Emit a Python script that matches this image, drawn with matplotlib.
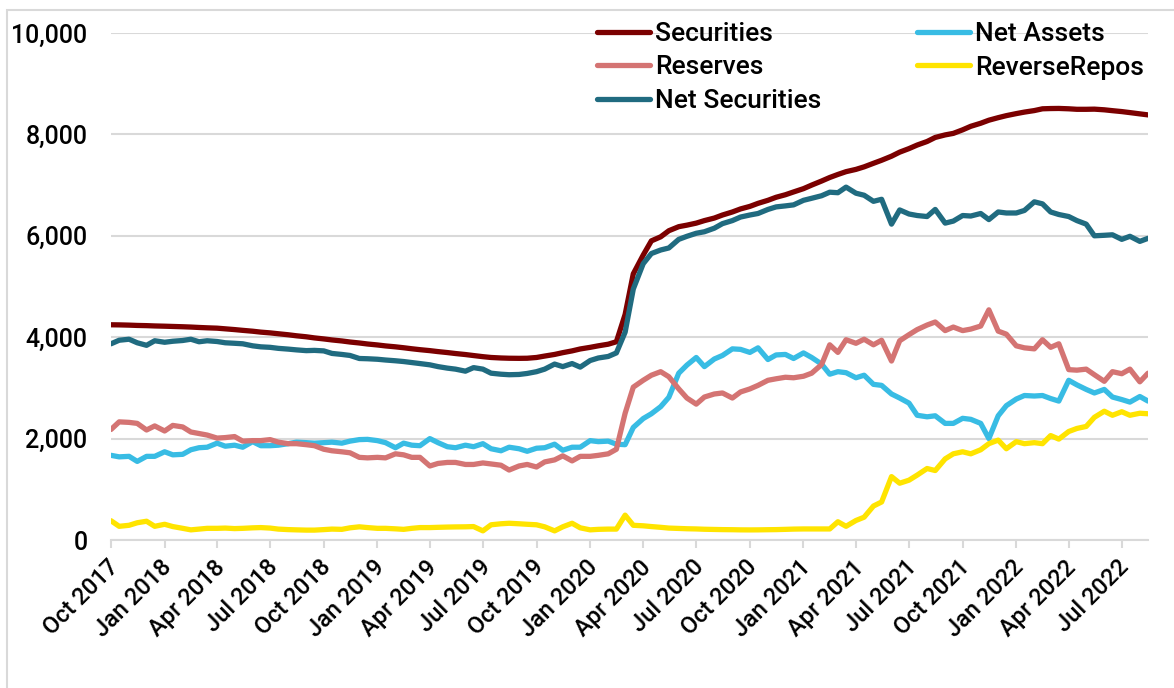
import matplotlib
matplotlib.use("Agg")
import matplotlib.pyplot as plt
import matplotlib.dates as mdates
import matplotlib.transforms as mtrans
from matplotlib.ticker import FuncFormatter
from matplotlib.patches import Rectangle
import pandas as pd

plt.rcParams['font.family'] = ['Roboto', 'DejaVu Sans']
plt.rcParams['font.weight'] = 'medium'

# semi-monthly sampling of the weekly series, Oct 2017 - Aug 2022
dates = pd.date_range("2017-10-01", periods=118, freq="SMS")

securities = [
    4245, 4243, 4238, 4232, 4228, 4222, 4217, 4212, 4206, 4200,
    4192, 4185, 4178, 4165, 4150, 4135, 4118, 4100, 4085, 4068,
    4048, 4028, 4008, 3986, 3966, 3946, 3926, 3905, 3886, 3866,
    3847, 3828, 3810, 3792, 3772, 3754, 3735, 3716, 3697, 3678,
    3658, 3638, 3616, 3600, 3590, 3585, 3583, 3585, 3600, 3628,
    3660, 3695, 3730, 3768, 3800, 3830, 3862, 3910, 4450, 5250,
    5620, 5900, 5980, 6100, 6180, 6210, 6250, 6300, 6350, 6410,
    6470, 6530, 6580, 6640, 6700, 6760, 6810, 6865, 6930, 7000,
    7080, 7150, 7210, 7265, 7310, 7360, 7430, 7490, 7570, 7650,
    7720, 7790, 7860, 7940, 7990, 8020, 8090, 8160, 8220, 8280,
    8330, 8370, 8410, 8440, 8470, 8505, 8510, 8512, 8505, 8495,
    8495, 8498, 8485, 8468, 8450, 8430, 8405, 8385]

net_assets = [
    1670, 1640, 1650, 1550, 1650, 1650, 1740, 1680, 1690, 1780,
    1820, 1830, 1910, 1850, 1870, 1830, 1940, 1860, 1860, 1870,
    1900, 1930, 1920, 1910, 1920, 1930, 1910, 1950, 1980, 1985,
    1960, 1920, 1820, 1910, 1870, 1860, 2000, 1920, 1840, 1820,
    1870, 1840, 1900, 1800, 1760, 1830, 1800, 1750, 1810, 1820,
    1890, 1770, 1830, 1830, 1960, 1940, 1950, 1890, 1880, 2220,
    2395, 2490, 2630, 2815, 3290, 3450, 3600, 3420, 3570, 3640,
    3770, 3760, 3700, 3790, 3560, 3650, 3660, 3580, 3690, 3600,
    3470, 3270, 3320, 3300, 3200, 3250, 3070, 3050, 2880, 2800,
    2700, 2460, 2430, 2450, 2300, 2300, 2400, 2380, 2300, 2000,
    2450, 2650, 2780, 2850, 2840, 2850, 2790, 2740, 3150, 3060,
    2970, 2900, 2970, 2820, 2770, 2720, 2830, 2740]

reserves = [
    2180, 2330, 2320, 2300, 2170, 2250, 2150, 2260, 2230, 2130,
    2100, 2070, 2010, 2020, 2040, 1950, 1960, 1960, 1980, 1930,
    1900, 1900, 1880, 1860, 1790, 1760, 1740, 1720, 1630, 1620,
    1630, 1620, 1700, 1680, 1630, 1630, 1460, 1510, 1530, 1530,
    1490, 1490, 1520, 1500, 1475, 1380, 1460, 1490, 1440, 1540,
    1580, 1660, 1560, 1650, 1650, 1670, 1700, 1790, 2500, 3015,
    3150, 3250, 3320, 3220, 2980, 2800, 2680, 2820, 2880, 2900,
    2800, 2920, 2980, 3050, 3150, 3180, 3210, 3200, 3230, 3290,
    3460, 3850, 3700, 3950, 3880, 3960, 3850, 3940, 3530, 3930,
    4050, 4150, 4240, 4300, 4130, 4200, 4130, 4160, 4220, 4540,
    4120, 4060, 3830, 3790, 3770, 3950, 3800, 3870, 3360, 3350,
    3370, 3260, 3130, 3320, 3280, 3370, 3120, 3290]

reverse_repos = [
    380, 270, 290, 340, 370, 270, 310, 265, 230, 200,
    215, 230, 230, 235, 225, 230, 240, 245, 235, 215,
    205, 200, 195, 195, 205, 215, 210, 240, 260, 245,
    230, 230, 220, 210, 230, 245, 245, 250, 255, 258,
    260, 265, 180, 300, 320, 330, 320, 310, 300, 260,
    180, 260, 330, 240, 200, 210, 215, 215, 490, 290,
    280, 265, 250, 235, 228, 222, 218, 212, 208, 205,
    203, 200, 199, 200, 203, 205, 210, 215, 218, 218,
    218, 218, 360, 270, 385, 450, 670, 750, 1250, 1120,
    1180, 1280, 1410, 1370, 1600, 1700, 1740, 1700, 1780, 1900,
    1970, 1800, 1940, 1900, 1920, 1900, 2060, 1990, 2140, 2200,
    2240, 2420, 2540, 2460, 2530, 2460, 2500, 2490]

net_securities = [
    3870, 3940, 3960, 3890, 3840, 3930, 3900, 3920, 3935, 3960,
    3910, 3930, 3915, 3890, 3880, 3870, 3830, 3810, 3800, 3780,
    3765, 3750, 3735, 3740, 3730, 3680, 3660, 3640, 3580, 3575,
    3565, 3550, 3535, 3520, 3500, 3480, 3455, 3420, 3390, 3370,
    3330, 3400, 3370, 3290, 3270, 3260, 3265, 3285, 3320, 3370,
    3470, 3420, 3480, 3410, 3540, 3590, 3620, 3690, 4100, 4950,
    5450, 5650, 5720, 5760, 5930, 5990, 6050, 6080, 6150, 6240,
    6300, 6370, 6410, 6440, 6520, 6570, 6590, 6610, 6700, 6740,
    6790, 6860, 6850, 6960, 6840, 6800, 6680, 6720, 6230, 6510,
    6430, 6400, 6380, 6520, 6250, 6290, 6400, 6390, 6440, 6320,
    6470, 6450, 6450, 6500, 6670, 6630, 6470, 6420, 6380, 6300,
    6230, 6000, 6010, 6020, 5930, 5990, 5890, 5950]

series = [
    ("Securities", securities, "#7B0000"),
    ("Net Assets", net_assets, "#38BCE4"),
    ("Reserves", reserves, "#D47473"),
    ("ReverseRepos", reverse_repos, "#FFE400"),
    ("Net Securities", net_securities, "#206B80"),
]

fig = plt.figure(figsize=(11.74, 6.88), dpi=100)
ax = fig.add_axes([111 / 1174, 1 - 540 / 688, (1148 - 111) / 1174, (540 - 33) / 688])

lines = {}
for name, vals, col in series:
    ln, = ax.plot(dates, vals, color=col, lw=3.8, label=name,
                  solid_joinstyle="round", solid_capstyle="round")
    lines[name] = ln

ax.set_xlim(pd.Timestamp("2017-10-01"), pd.Timestamp("2022-08-15"))
ax.set_ylim(0, 10000)
ax.set_yticks(range(0, 10001, 2000))
ax.yaxis.set_major_formatter(FuncFormatter(lambda v, p: f"{int(v):,}"))
ax.grid(axis="y", color="#D9D9D9", lw=1.5)
ax.set_axisbelow(True)

ax.xaxis.set_major_locator(mdates.MonthLocator(bymonth=[1, 4, 7, 10]))
ax.xaxis.set_major_formatter(mdates.DateFormatter("%b %Y"))

for s in ["top", "right", "left"]:
    ax.spines[s].set_visible(False)
ax.spines["bottom"].set_color("#D9D9D9")
ax.spines["bottom"].set_linewidth(1.5)

ax.tick_params(axis="y", length=0, pad=17, labelsize=18)
ax.tick_params(axis="x", length=6, width=1.5, color="#D9D9D9", pad=4, labelsize=17)
shift = mtrans.ScaledTranslation(4 / 100, -10 / 100, fig.dpi_scale_trans)
for lab in ax.get_xticklabels():
    lab.set_rotation(45)
    lab.set_ha("right")
    lab.set_va("center")
    lab.set_rotation_mode("anchor")
    lab.set_transform(lab.get_transform() + shift)

order = ["Securities", "Reserves", "Net Securities", "Net Assets", "ReverseRepos"]
fig.legend([lines[n] for n in order], order, loc="upper left",
           bbox_to_anchor=(597 / 1174, 1 - 22 / 688), ncol=2, frameon=False,
           fontsize=19, borderpad=0, handlelength=2.0, handletextpad=0.2,
           columnspacing=3.64, labelspacing=0.36, borderaxespad=0)

# outer chart frame
fig.patches.append(Rectangle((7 / 1174, -0.1), 1.2, 1 - 10 / 688 + 0.1,
                             transform=fig.transFigure, fill=False,
                             edgecolor="#D9D9D9", lw=1.5))

fig.savefig("out.png", dpi=100)
